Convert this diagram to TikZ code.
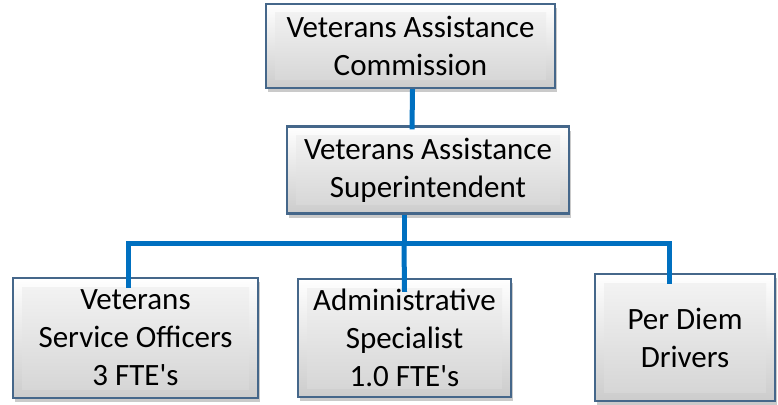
\documentclass[tikz,border=0pt]{standalone}
\usepackage{fontspec}
\setmainfont{Carlito}
\usetikzlibrary{shadows}
\definecolor{boxedge}{HTML}{45678A}
\definecolor{link}{HTML}{0070C0}
\tikzset{
  orgbox/.style={draw=boxedge, line width=2.2pt, inner sep=0pt,
    top color=white, bottom color=black!20,
    path picture={\fill[top color=black!4, bottom color=black!17]
      ([shift={(9pt,-9pt)}]path picture bounding box.north west) rectangle
      ([shift={(-9pt,9pt)}]path picture bounding box.south east);},
    align=center, font=\fontsize{31}{38}\selectfont,
    drop shadow={shadow xshift=2pt, shadow yshift=-4pt, opacity=0.35, fill=black!60}},
  wire/.style={draw=link, line width=5pt}
}
\begin{document}
\begin{tikzpicture}[x=1pt,y=-1pt]
\useasboundingbox (0,0) rectangle (778,404);
\node[orgbox, minimum width=289pt, minimum height=84pt] (comm) at (410.5,46) {Veterans Assistance\\Commission};
\node[orgbox, minimum width=282pt, minimum height=87pt] (sup) at (428,170) {Veterans Assistance\\Superintendent};
\node[orgbox, minimum width=245pt, minimum height=120pt] (vso) at (135.5,338) {Veterans\\Service Officers\\3 FTE\textquotesingle s};
\node[orgbox, minimum width=213pt, minimum height=118pt] (adm) at (404.5,338) {Administrative\\Specialist\\1.0 FTE\textquotesingle s};
\node[orgbox, minimum width=180pt, minimum height=127pt] (pd) at (685,337.5) {Per Diem\\Drivers};
\coordinate (j) at (404,243);
\coordinate (jl) at (128,243);
\coordinate (jr) at (669,243);
\draw[wire] ([xshift=2pt]comm.south) -- ([xshift=-16pt,yshift=-4pt]sup.north);
\draw[wire] (sup.south -| j) -- (j);
\draw[wire] ([xshift=-7.5pt,yshift=-11pt]vso.north) -- (jl) -- (jr) -- ([xshift=-16pt,yshift=-11pt]pd.north);
\draw[wire] (j) -- ([yshift=-14pt]adm.north);
\end{tikzpicture}
\end{document}
